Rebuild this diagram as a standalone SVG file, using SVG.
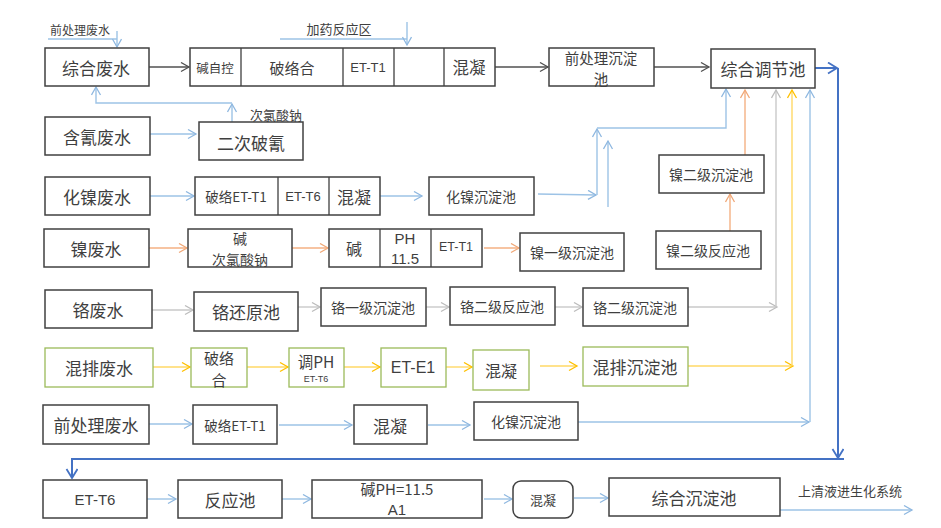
<svg xmlns="http://www.w3.org/2000/svg" width="941" height="528" viewBox="0 0 941 528">
<style>
text{font-family:"Noto Sans CJK SC","Liberation Sans",sans-serif;fill:#3f3f3f;text-anchor:middle;dominant-baseline:central}
.b{fill:#fff;stroke:#404040;stroke-width:1.5}
.g{fill:#fff;stroke:#9bbb59;stroke-width:1.3}
.d{stroke:#404040;stroke-width:1.3}
.c{fill:none;stroke-width:1.4}
.k{stroke:#505050}
.lb{stroke:#9dc3e6}
.or{stroke:#f4b183}
.gr{stroke:#c9c9c9}
.ye{stroke:#ffd966}
.db{stroke:#4472c4;stroke-width:2}
.l{font-family:"Liberation Sans","Noto Sans CJK SC",sans-serif}
</style>
<defs>
<marker id="mk" markerWidth="12" markerHeight="12" refX="9" refY="5" orient="auto" markerUnits="userSpaceOnUse"><path d="M1,0.5 L9,5 L1,9.5" fill="none" stroke="#505050" stroke-width="1.3"/></marker>
<marker id="mlb" markerWidth="12" markerHeight="12" refX="9" refY="5" orient="auto" markerUnits="userSpaceOnUse"><path d="M1,0.5 L9,5 L1,9.5" fill="none" stroke="#8fb8e0" stroke-width="1.3"/></marker>
<marker id="mor" markerWidth="12" markerHeight="12" refX="9" refY="5" orient="auto" markerUnits="userSpaceOnUse"><path d="M1,0.5 L9,5 L1,9.5" fill="none" stroke="#f0a878" stroke-width="1.3"/></marker>
<marker id="mgr" markerWidth="12" markerHeight="12" refX="9" refY="5" orient="auto" markerUnits="userSpaceOnUse"><path d="M1,0.5 L9,5 L1,9.5" fill="none" stroke="#bdbdbd" stroke-width="1.3"/></marker>
<marker id="mye" markerWidth="12" markerHeight="12" refX="9" refY="5" orient="auto" markerUnits="userSpaceOnUse"><path d="M1,0.5 L9,5 L1,9.5" fill="none" stroke="#ffc000" stroke-width="1.3"/></marker>
<marker id="mdb" markerWidth="14" markerHeight="14" refX="10" refY="6" orient="auto" markerUnits="userSpaceOnUse"><path d="M1,0.5 L10,6 L1,11.5" fill="none" stroke="#4472c4" stroke-width="1.8"/></marker>
</defs>

<g id="connectors">
<path class="c lb" d="M48,39 H117"/>
<path class="c lb" d="M117,31 V47" marker-end="url(#mlb)"/>
<path class="c lb" d="M280,39 H407"/>
<path class="c lb" d="M407,22 V45" marker-end="url(#mlb)"/>
<path class="c k" d="M149,67 H189" marker-end="url(#mk)"/>
<path class="c k" d="M495,67 H548" marker-end="url(#mk)"/>
<path class="c k" d="M654,67 H709" marker-end="url(#mk)"/>
<path class="c db" d="M815,68 H837" marker-end="url(#mdb)"/>
<path class="c db" d="M838,68 V458" marker-end="url(#mdb)"/>
<path class="c db" d="M844,459 H72 V478" marker-end="url(#mdb)"/>
<path class="c lb" d="M150,134 H196" marker-end="url(#mlb)"/>
<path class="c lb" d="M232,122 V104" marker-end="url(#mlb)"/>
<path class="c lb" d="M232,103 H96 V87" marker-end="url(#mlb)"/>
<path class="c lb" d="M150,196 H194" marker-end="url(#mlb)"/>
<path class="c lb" d="M380,196 H422" marker-end="url(#mlb)"/>
<path class="c lb" d="M538,194 L596,195" marker-end="url(#mlb)"/>
<path class="c lb" d="M597,195 V129" marker-end="url(#mlb)"/>
<path class="c lb" d="M597,128 H726 V89" marker-end="url(#mlb)"/>
<path class="c lb" d="M608,207 V141" marker-end="url(#mlb)"/>
<path class="c or" d="M149,248 H187" marker-end="url(#mor)"/>
<path class="c or" d="M292,248 H328" marker-end="url(#mor)"/>
<path class="c or" d="M484,248 H519" marker-end="url(#mor)"/>
<path class="c or" d="M730,231 V194" marker-end="url(#mor)"/>
<path class="c or" d="M745,155 V90" marker-end="url(#mor)"/>
<path class="c gr" d="M152,310 H193" marker-end="url(#mgr)"/>
<path class="c gr" d="M298,307 H320" marker-end="url(#mgr)"/>
<path class="c gr" d="M426,307 H449" marker-end="url(#mgr)"/>
<path class="c gr" d="M555,307 H582" marker-end="url(#mgr)"/>
<path class="c gr" d="M688,307 H777" marker-end="url(#mgr)"/>
<path class="c gr" d="M776,307 V90" marker-end="url(#mgr)"/>
<path class="c ye" d="M153,367 H190" marker-end="url(#mye)"/>
<path class="c ye" d="M247,367 H288" marker-end="url(#mye)"/>
<path class="c ye" d="M344,367 H380" marker-end="url(#mye)"/>
<path class="c ye" d="M446,367 H472" marker-end="url(#mye)"/>
<path class="c ye" d="M540,366 H577" marker-end="url(#mye)"/>
<path class="c ye" d="M688,366 H793" marker-end="url(#mye)"/>
<path class="c ye" d="M792,366 V90" marker-end="url(#mye)"/>
<path class="c lb" d="M149,424 H192" marker-end="url(#mlb)"/>
<path class="c lb" d="M279,425 H352" marker-end="url(#mlb)"/>
<path class="c lb" d="M428,425 H470" marker-end="url(#mlb)"/>
<path class="c lb" d="M578,422 H809" marker-end="url(#mlb)"/>
<path class="c lb" d="M810,422 V90" marker-end="url(#mlb)"/>
<path class="c lb" d="M147,499 H176" marker-end="url(#mlb)"/>
<path class="c lb" d="M282,499 H311" marker-end="url(#mlb)"/>
<path class="c lb" d="M484,499 H512" marker-end="url(#mlb)"/>
<path class="c lb" d="M574,498 H608" marker-end="url(#mlb)"/>
<path class="c lb" d="M780,510 H912" marker-end="url(#mlb)"/>
</g>

<g id="labels">
<text x="80" y="29" font-size="12">前处理废水</text>
<text x="339" y="28" font-size="13">加药反应区</text>
<text x="276" y="114" font-size="13">次氯酸钠</text>
<text x="850" y="490" font-size="13">上清液进生化系统</text>
</g>

<g id="n-zhfs"><rect class="b" x="45" y="48" width="104" height="38"/><text x="96" y="67" font-size="17">综合废水</text></g>
<g id="n-row1">
<rect class="b" x="190" y="48" width="305" height="38"/>
<path class="d" d="M241,48 V86 M343,48 V86 M394,48 V86 M444,48 V86"/>
<text x="215" y="67" font-size="12.5">碱自控</text>
<text x="292" y="67" font-size="15">破络合</text>
<text class="l" x="368" y="67" font-size="13">ET-T1</text>
<text x="469" y="67" font-size="16.5">混凝</text>
</g>
<g id="n-qclcdc"><rect class="b" x="549" y="48" width="105" height="38"/><text x="601" y="57" font-size="14.5">前处理沉淀</text><text x="601" y="78" font-size="14.5">池</text></g>
<g id="n-zhtjc"><rect class="b" x="711" y="49" width="104" height="39"/><text x="763" y="68" font-size="17">综合调节池</text></g>

<g id="n-hqfs"><rect class="b" x="45" y="117" width="105" height="38"/><text x="97" y="136" font-size="17">含氰废水</text></g>
<g id="n-ecpq"><rect class="b" x="199" y="122" width="104" height="38"/><text x="251" y="142" font-size="17">二次破氰</text></g>

<g id="n-hnfs"><rect class="b" x="45" y="177" width="105" height="38"/><text x="97" y="196" font-size="17">化镍废水</text></g>
<g id="n-row3">
<rect class="b" x="195" y="177" width="185" height="38"/>
<path class="d" d="M278,177 V215 M329,177 V215"/>
<text x="236" y="196" font-size="13.5">破络ET-T1</text>
<text class="l" x="303" y="196" font-size="13">ET-T6</text>
<text x="354" y="196" font-size="17">混凝</text>
</g>
<g id="n-hncdc1"><rect class="b" x="429" y="177" width="105" height="38"/><text x="481" y="196" font-size="14">化镍沉淀池</text></g>

<g id="n-nfs"><rect class="b" x="44" y="229" width="105" height="38"/><text x="96" y="248" font-size="17">镍废水</text></g>
<g id="n-jclsn"><rect class="b" x="188" y="229" width="104" height="38"/><text x="240" y="237.5" font-size="14">碱</text><text x="240" y="258.5" font-size="14">次氯酸钠</text></g>
<g id="n-row4">
<rect class="b" x="329" y="229" width="153" height="38"/>
<path class="d" d="M380,229 V267 M431,229 V267"/>
<text x="354" y="248" font-size="16">碱</text>
<text class="l" x="405" y="238" font-size="15">PH</text>
<text class="l" x="405" y="258" font-size="15">11.5</text>
<text class="l" x="456" y="247" font-size="12.5">ET-T1</text>
</g>
<g id="n-nyjcdc"><rect class="b" x="520" y="233" width="104" height="38"/><text x="572" y="252" font-size="14">镍一级沉淀池</text></g>
<g id="n-nejfyc"><rect class="b" x="656" y="231" width="105" height="38"/><text x="708" y="250" font-size="14">镍二级反应池</text></g>
<g id="n-nejcdc"><rect class="b" x="659" y="155" width="105" height="38"/><text x="711" y="174" font-size="14">镍二级沉淀池</text></g>

<g id="n-gfs"><rect class="b" x="45" y="290" width="107" height="38"/><text x="98" y="309" font-size="17">铬废水</text></g>
<g id="n-ghyc"><rect class="b" x="194" y="292" width="104" height="39"/><text x="246" y="311" font-size="17">铬还原池</text></g>
<g id="n-gyjcdc"><rect class="b" x="321" y="288" width="105" height="38"/><text x="373" y="307" font-size="14">铬一级沉淀池</text></g>
<g id="n-gejfyc"><rect class="b" x="450" y="287" width="105" height="38"/><text x="502" y="306" font-size="14">铬二级反应池</text></g>
<g id="n-gejcdc"><rect class="b" x="583" y="288" width="105" height="38"/><text x="635" y="307" font-size="14">铬二级沉淀池</text></g>

<g id="n-hpfs"><rect class="g" x="45" y="348" width="108" height="39"/><text x="99" y="367" font-size="17">混排废水</text></g>
<g id="n-plh"><rect class="g" x="191" y="348" width="56" height="39"/><text x="219" y="357" font-size="15">破络</text><text x="219" y="379" font-size="15">合</text></g>
<g id="n-tph"><rect class="g" x="289" y="348" width="55" height="39"/><text x="316" y="361" font-size="15.5">调PH</text><text class="l" x="316" y="379" font-size="9">ET-T6</text></g>
<g id="n-ete1"><rect class="g" x="381" y="348" width="65" height="39"/><text class="l" x="413" y="367" font-size="16">ET-E1</text></g>
<g id="n-hn6"><rect class="g" x="473" y="350" width="56" height="40"/><text x="501" y="370" font-size="16">混凝</text></g>
<g id="n-hpcdc"><rect class="g" x="583" y="347" width="105" height="39"/><text x="635" y="366" font-size="17">混排沉淀池</text></g>

<g id="n-qclfs"><rect class="b" x="43" y="405" width="106" height="39"/><text x="96" y="424" font-size="17">前处理废水</text></g>
<g id="n-plett1"><rect class="b" x="193" y="405" width="84" height="39"/><text x="235" y="425" font-size="13.5">破络ET-T1</text></g>
<g id="n-hn7"><rect class="b" x="354" y="405" width="73" height="39"/><text x="390" y="425" font-size="17">混凝</text></g>
<g id="n-hncdc2"><rect class="b" x="474" y="402" width="104" height="38"/><text x="526" y="421" font-size="14">化镍沉淀池</text></g>

<g id="n-ett6"><rect class="b" x="43" y="480" width="104" height="38"/><text class="l" x="95" y="499" font-size="15">ET-T6</text></g>
<g id="n-fyc"><rect class="b" x="178" y="480" width="104" height="38"/><text x="230" y="499" font-size="17">反应池</text></g>
<g id="n-jph"><rect class="b" x="312" y="480" width="170" height="38"/><text x="397" y="488" font-size="15">碱PH=11.5</text><text class="l" x="397" y="509" font-size="15">A1</text></g>
<g id="n-hn8"><rect class="b" x="513" y="481" width="60" height="37" rx="8"/><text x="543" y="499" font-size="13">混凝</text></g>
<g id="n-zhcdc"><rect class="b" x="609" y="478" width="171" height="38"/><text x="694" y="497" font-size="17">综合沉淀池</text></g>
</svg>
